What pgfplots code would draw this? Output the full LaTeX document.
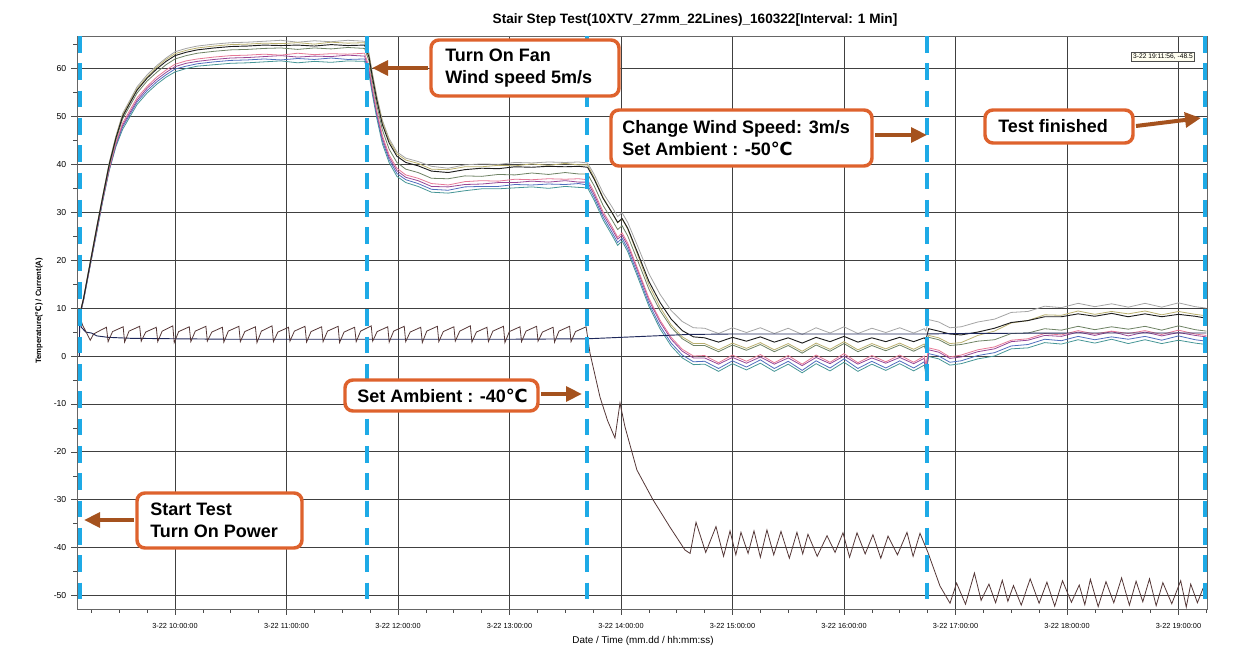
\documentclass[border=0pt]{standalone}
\usepackage{pgfplots}
\pgfplotsset{compat=1.18}
\usepackage{pgfplotstable}
\usepackage{fontspec}
\setmainfont{Liberation Sans}
\newfontfamily\dejavu{DejaVu Sans}
\usetikzlibrary{arrows.meta}
\definecolor{dashblue}{RGB}{30,170,230}
\definecolor{boxorange}{RGB}{222,98,45}
\definecolor{arrowbrown}{RGB}{165,82,30}
\definecolor{sgray}{RGB}{165,165,165}
\definecolor{solive}{RGB}{185,175,110}
\definecolor{sblack}{RGB}{30,30,30}
\definecolor{sgreen}{RGB}{110,130,100}
\definecolor{spink}{RGB}{230,120,150}
\definecolor{smag}{RGB}{150,70,150}
\definecolor{sblue}{RGB}{80,110,190}
\definecolor{steal}{RGB}{70,150,150}
\definecolor{navy}{RGB}{30,40,90}
\definecolor{amb}{RGB}{85,55,55}
\newcommand\celsius{{\dejavu ℃}}
\newcommand\annfont{\fontsize{13.5pt}{16.5pt}\selectfont\bfseries}

\pgfplotstableread{
t a b c d e f g h
9.14 8.3 8.1 8.0 8.2 7.9 8.0 7.8 7.9
9.18 12.2 12.1 12.0 11.9 11.8 11.9 11.7 11.6
9.22 17.3 17.1 17.0 16.9 16.8 16.7 16.6 16.5
9.26 22.3 22.1 22.0 21.8 21.7 21.6 21.4 21.3
9.30 27.3 27.1 27.0 26.8 26.5 26.4 26.2 26.0
9.35 33.3 33.1 33.0 32.8 32.6 32.5 32.3 32.1
9.41 40.4 40.1 40.0 39.6 39.2 39.0 38.9 38.7
9.47 45.9 45.7 45.5 45.1 44.5 44.3 44.0 43.7
9.53 50.6 50.3 50.0 49.5 48.6 48.2 47.8 47.3
9.60 53.6 53.3 53.0 52.4 51.5 51.0 50.6 50.1
9.66 56.2 55.8 55.5 54.9 53.9 53.4 53.0 52.5
9.75 58.7 58.3 58.0 57.4 56.3 55.9 55.4 54.9
9.84 60.7 60.4 60.0 59.3 58.3 57.8 57.3 56.8
9.92 62.2 61.9 61.5 60.8 59.7 59.2 58.7 58.2
10.0 63.5 63.1 62.7 62.0 60.9 60.4 59.9 59.3
10.1 64.2 63.8 63.4 62.7 61.6 61.1 60.5 60.0
10.2 64.7 64.3 63.9 63.2 62.0 61.5 61.0 60.5
10.35 65.1 64.7 64.3 63.6 62.4 61.9 61.4 60.8
10.5 65.4 65.0 64.6 63.9 62.7 62.2 61.7 61.1
10.65 65.5 65.1 64.7 64.0 62.8 62.3 61.8 61.2
10.8 65.7 65.3 64.9 64.2 63.0 62.5 62.0 61.4
10.95 65.9 65.2 64.8 64.3 62.8 62.7 61.8 61.6
11.1 65.5 65.4 64.9 64.0 63.2 62.4 62.1 61.2
11.25 65.8 65.1 64.7 64.3 62.9 62.6 61.9 61.5
11.4 65.6 65.5 65.0 64.1 63.1 62.5 62.2 61.3
11.55 65.9 65.3 64.8 64.4 63.0 62.8 61.9 61.6
11.7 65.7 65.4 64.9 64.2 63.2 62.6 62.0 61.5
11.74 63.2 62.8 62.4 61.6 60.4 59.9 59.4 58.8
11.77 59.1 58.7 58.3 57.4 56.2 55.7 55.2 54.6
11.81 54.3 53.9 53.4 52.4 51.2 50.7 50.2 49.6
11.86 49.2 48.8 48.3 47.2 46.0 45.5 44.9 44.3
11.92 45.4 45.0 44.5 43.2 42.0 41.5 41.0 40.4
11.99 42.6 42.2 41.7 40.4 39.2 38.7 38.1 37.5
12.07 41.3 40.9 40.4 39.0 37.8 37.3 36.8 36.2
12.18 40.6 40.2 39.7 38.3 37.1 36.6 36.0 35.4
12.3 39.6 39.0 38.6 37.1 36.0 35.4 34.8 34.2
12.45 39.2 38.9 38.3 37.0 35.7 35.3 34.6 34.0
12.6 39.9 39.5 38.9 37.6 36.4 35.8 35.3 34.5
12.75 40.1 39.5 39.2 37.5 36.6 35.9 35.4 34.9
12.9 40.0 39.8 39.1 37.9 36.5 36.2 35.4 34.9
13.05 40.4 39.7 39.5 37.8 36.9 36.2 35.8 35.1
13.2 40.3 40.1 39.4 38.2 36.8 36.5 35.7 35.3
13.35 40.5 39.8 39.6 37.9 37.0 36.3 35.9 35.0
13.5 40.4 40.2 39.5 38.3 36.9 36.6 35.8 35.4
13.62 40.5 39.9 39.6 38.0 37.0 36.3 36.0 35.2
13.7 40.3 39.9 39.4 38.0 36.8 36.3 35.7 35.1
13.76 37.9 37.2 36.9 35.5 34.2 33.7 33.1 32.5
13.84 34.0 33.1 32.9 31.4 30.1 29.6 29.0 28.4
13.92 31.1 29.9 29.9 28.4 27.0 26.5 25.8 25.2
13.97 29.1 27.8 27.9 26.4 24.8 24.4 23.7 23.1
14.01 29.9 28.6 28.7 27.2 25.7 25.2 24.6 24.0
14.06 27.9 26.5 26.7 25.1 23.6 23.1 22.4 21.8
14.15 22.9 21.1 21.5 19.9 18.2 17.8 17.1 16.5
14.25 17.2 14.9 15.6 14.0 12.1 11.7 11.0 10.4
14.35 12.9 10.2 11.2 9.5 7.5 7.1 6.3 5.7
14.45 9.5 6.5 7.7 6.0 3.9 3.5 2.7 2.1
14.55 7.2 4.0 5.3 3.6 1.4 1.0 0.2 -0.4
14.65 5.9 2.6 4.0 2.2 0.0 -0.4 -1.2 -1.8
14.75 5.8 2.6 3.8 2.2 0.1 -0.4 -1.1 -1.7
14.875 4.7 1.3 2.9 0.9 -1.4 -1.7 -2.6 -3.2
15.0 5.9 2.7 3.9 2.3 0.2 -0.3 -1.0 -1.6
15.125 4.9 1.6 3.1 1.2 -1.1 -1.5 -2.3 -2.9
15.25 5.9 2.8 4.0 2.4 0.3 -0.2 -0.8 -1.5
15.375 4.7 1.3 2.9 0.9 -1.4 -1.7 -2.6 -3.2
15.5 5.8 2.6 3.8 2.2 0.1 -0.4 -1.1 -1.7
15.625 4.5 1.0 2.7 0.6 -1.7 -2.0 -3.0 -3.5
15.75 5.9 2.7 3.9 2.3 0.2 -0.3 -1.0 -1.6
15.875 4.8 1.4 3.0 1.0 -1.3 -1.6 -2.5 -3.1
16.0 6.1 3.0 4.1 2.6 0.5 0.0 -0.6 -1.3
16.125 4.7 1.3 2.9 0.9 -1.4 -1.7 -2.6 -3.2
16.25 5.8 2.6 3.8 2.2 0.1 -0.4 -1.1 -1.7
16.375 4.9 1.5 3.0 1.1 -1.2 -1.5 -2.5 -3.0
16.5 5.9 2.7 3.9 2.3 0.2 -0.3 -1.0 -1.6
16.625 4.8 1.4 3.0 1.0 -1.3 -1.6 -2.5 -3.1
16.72 5.7 2.5 3.8 2.1 0.0 -0.5 -1.2 -1.9
16.735 5.2 1.9 3.4 1.2 -2.0 -2.6 -3.4 -3.9
16.76 7.6 4.3 5.7 3.9 1.7 1.3 0.5 -0.1
16.85 7.1 3.8 5.2 3.4 1.2 0.8 0.0 -0.6
16.95 5.9 2.6 4.6 2.2 -0.2 -0.5 -1.3 -1.9
17.05 6.1 2.8 4.4 2.4 0.2 -0.2 -1.0 -1.6
17.2 7.1 4.3 5.0 3.1 1.3 0.9 0.1 -0.6
17.35 7.7 5.2 5.8 3.4 1.9 1.5 0.7 0.0
17.5 9.1 6.9 7.0 4.7 3.3 3.0 2.1 1.5
17.65 9.3 7.4 7.4 4.8 3.6 3.3 2.4 1.7
17.8 10.4 8.6 8.2 5.7 4.7 4.3 3.5 2.8
17.95 10.1 8.5 8.2 5.4 4.4 4.1 3.2 2.5
18.1 11.0 9.4 8.8 6.2 5.3 5.0 4.1 3.4
18.25 10.3 8.7 8.3 5.5 4.6 4.3 3.4 2.7
18.4 10.9 9.3 8.9 6.1 5.2 5.1 4.0 3.5
18.55 10.2 8.8 8.2 5.6 4.7 4.2 3.5 2.6
18.7 11.0 9.4 8.8 6.2 5.3 5.0 4.1 3.4
18.85 10.2 8.6 8.2 5.4 4.5 4.2 3.3 2.6
19.0 11.1 9.3 8.7 6.3 5.4 4.9 4.2 3.3
19.15 10.3 8.7 8.3 5.5 4.6 4.3 3.4 2.7
19.25 10.0 8.4 7.9 5.2 4.3 4.0 3.1 2.4
}\tempdata

\begin{document}
\begin{tikzpicture}
\path[use as bounding box] (0,0) rectangle (926.25pt,492pt);
\begin{axis}[
  at={(57.75pt,35.25pt)}, anchor=south west,
  scale only axis, width=847.5pt, height=429.75pt,
  xmin=9.121, xmax=19.256, ymin=-52.8, ymax=66.8,
  xtick={10,11,12,13,14,15,16,17,18,19},
  xticklabels={3-22 10:00:00,3-22 11:00:00,3-22 12:00:00,3-22 13:00:00,3-22 14:00:00,3-22 15:00:00,3-22 16:00:00,3-22 17:00:00,3-22 18:00:00,3-22 19:00:00},
  minor xtick={9.25,9.5,...,19.25},
  ytick={-50,-40,-30,-20,-10,0,10,20,30,40,50,60},
  yticklabels={-50,-40,-30,-20,-10,0,10,20,30,40,50,60},
  minor ytick={-45,-35,-25,-15,-5,5,15,25,35,45,55,65},
  grid=major,
  major grid style={black!75, line width=0.55pt},
  tick align=outside, tick pos=left,
  major tick length=4.5pt, minor tick length=3pt,
  tick style={black!70, line width=0.4pt},
  axis line style={black!60, line width=0.6pt},
  xticklabel style={font=\fontsize{5.5pt}{6pt}\selectfont, yshift=-3pt},
  yticklabel style={font=\fontsize{6.5pt}{7pt}\selectfont},
  clip=false,
]
\addplot[sgray, line width=0.6pt] table[x=t,y=a]{\tempdata};
\addplot[solive, line width=0.6pt] table[x=t,y=b]{\tempdata};
\addplot[steal, line width=0.6pt] table[x=t,y=h]{\tempdata};
\addplot[sblue, line width=0.6pt] table[x=t,y=g]{\tempdata};
\addplot[smag, line width=0.6pt] table[x=t,y=f]{\tempdata};
\addplot[spink, line width=0.6pt] table[x=t,y=e]{\tempdata};
\addplot[sgreen, line width=0.6pt] table[x=t,y=d]{\tempdata};
\addplot[sblack, line width=0.7pt] table[x=t,y=c]{\tempdata};
% current
\addplot[navy, line width=0.7pt] coordinates {
(9.142,0)(9.145,8.5)(9.16,6.0)(9.20,5.0)(9.25,4.8)(9.30,4.2)(9.40,3.9)(9.6,3.7)(10.0,3.6)(10.5,3.5)(11,3.5)(12,3.5)(13,3.5)(13.7,3.6)(14.0,3.9)(14.3,4.2)(14.6,4.5)(15,4.6)(16,4.6)(16.74,4.6)(17,4.7)(18,4.8)(19.25,4.8)};
% ambient
\addplot[amb, line width=0.6pt] coordinates {
(9.14,8.6)(9.17,6.5)(9.24,3.3)(9.27,4.6)(9.35,5.6)(9.385,6.0)
(9.400,3.0)(9.440,5.1)(9.535,6.1)
(9.548,2.9)(9.588,5.2)(9.683,6.2)
(9.697,3.1)(9.737,5.0)(9.832,6.0)
(9.845,3.0)(9.885,5.2)(9.980,6.3)
(9.993,2.8)(10.033,5.1)(10.128,6.1)
(10.142,3.0)(10.182,5.2)(10.277,6.2)
(10.290,3.1)(10.330,5.0)(10.425,6.0)
(10.438,2.9)(10.478,5.2)(10.573,6.2)
(10.586,3.0)(10.626,5.1)(10.721,6.1)
(10.735,2.8)(10.775,5.2)(10.870,6.3)
(10.883,3.0)(10.923,5.0)(11.018,6.0)
(11.031,3.1)(11.071,5.2)(11.166,6.2)
(11.180,2.9)(11.220,5.1)(11.315,6.1)
(11.328,3.0)(11.368,5.2)(11.463,6.2)
(11.476,2.8)(11.516,5.0)(11.611,6.0)
(11.625,3.0)(11.665,5.2)(11.760,6.3)
(11.773,3.1)(11.813,5.1)(11.908,6.1)
(11.921,2.9)(11.961,5.2)(12.056,6.2)
(12.069,3.0)(12.109,5.0)(12.204,6.0)
(12.218,2.8)(12.258,5.2)(12.353,6.2)
(12.366,3.0)(12.406,5.1)(12.501,6.1)
(12.514,3.1)(12.554,5.2)(12.649,6.3)
(12.663,2.9)(12.703,5.0)(12.798,6.0)
(12.811,3.0)(12.851,5.2)(12.946,6.2)
(12.959,2.8)(12.999,5.1)(13.094,6.1)
(13.108,3.0)(13.148,5.2)(13.243,6.2)
(13.256,3.1)(13.296,5.0)(13.391,6.0)
(13.404,2.9)(13.444,5.2)(13.539,6.2)
(13.552,3.0)(13.592,5.1)(13.687,6.1)
(13.722,0.6)(13.812,-8.6)(13.88,-13.5)(13.946,-17.1)(13.991,-9.8)(14.036,-14.8)(14.143,-23.8)(14.287,-30.0)(14.439,-35.7)(14.574,-40.5)
(14.62,-41.2)(14.673,-34.7)(14.76,-41.0)(14.852,-35.6)(14.92,-41.8)(14.978,-36.5)(15.03,-41.5)(15.076,-36.8)(15.14,-41.2)(15.193,-36.5)(15.25,-42.0)(15.309,-36.3)(15.37,-41.5)(15.435,-36.6)(15.51,-42.2)(15.578,-36.8)(15.63,-41.3)(15.677,-37.2)(15.76,-41.8)(15.848,-37.5)(15.92,-41.0)(15.991,-36.9)(16.05,-42.0)(16.117,-36.9)(16.19,-41.3)(16.260,-37.3)(16.33,-42.2)(16.395,-37.6)(16.48,-41.5)(16.565,-36.8)(16.62,-41.8)(16.682,-37.0)(16.753,-41.0)(16.861,-48.0)(16.951,-51.6)
(17.01,-47.4)(17.09,-51.8)(17.17,-45.3)(17.23,-51.0)(17.30,-47.6)(17.36,-51.5)(17.42,-46.8)(17.47,-51.2)(17.52,-47.9)(17.59,-52.0)(17.67,-46.5)(17.75,-51.6)(17.82,-47.2)(17.89,-52.2)(17.96,-46.9)(18.04,-51.4)(18.11,-47.8)(18.16,-51.9)(18.21,-46.6)(18.28,-52.3)(18.35,-47.1)(18.42,-51.5)(18.49,-46.3)(18.56,-52.0)(18.62,-47.0)(18.68,-51.3)(18.74,-46.5)(18.80,-52.1)(18.86,-47.3)(18.94,-51.7)(19.02,-46.9)(19.07,-52.4)(19.11,-47.6)(19.17,-51.5)(19.22,-48.5)(19.25,-48.3)};
% event lines
\addplot[dashblue, line width=3pt, dash pattern=on 12.5pt off 8pt] coordinates {(9.1435,66.8)(9.1435,-52.8)};
\addplot[dashblue, line width=3pt, dash pattern=on 12.5pt off 8pt] coordinates {(11.722,66.8)(11.722,-52.8)};
\addplot[dashblue, line width=3pt, dash pattern=on 12.5pt off 8pt] coordinates {(13.695,66.8)(13.695,-52.8)};
\addplot[dashblue, line width=3pt, dash pattern=on 12.5pt off 8pt] coordinates {(16.744,66.8)(16.744,-52.8)};
\addplot[dashblue, line width=3pt, dash pattern=on 12.5pt off 8pt] coordinates {(19.242,66.8)(19.242,-52.8)};
\end{axis}

\begin{scope}[shift={(0pt,492pt)}, x=0.75pt, y=-0.75pt]
% title and axis labels
\node[font=\fontsize{10.2pt}{12pt}\selectfont\bfseries, inner sep=0pt] at (695,20) {Stair Step Test(10XTV\_27mm\_22Lines)\_160322[Interval: 1 Min]};
\node[font=\fontsize{7.4pt}{8pt}\selectfont, inner sep=0pt] at (643,641) {Date / Time (mm.dd / hh:mm:ss)};
\node[font=\fontsize{5.8pt}{6pt}\selectfont\bfseries, inner sep=0pt, rotate=90] at (39,311) {Temperature(\celsius) / Current(A)};
% tooltip
\node[draw=black!70, fill=yellow!6, line width=0.4pt, inner sep=1.2pt, font=\fontsize{5pt}{5pt}\selectfont] at (1163,57) {3-22 19:11:56, -48.5};
% annotation boxes
\draw[boxorange, line width=2.6pt, rounded corners=6pt, fill=white] (137,493) rectangle (302,548);
\node[anchor=west, font=\annfont, align=left, inner sep=0pt] at (150,520.5) {Start Test\\Turn On Power};
\draw[arrowbrown, line width=3pt, -{Triangle[length=12pt,width=11pt]}] (134,520) -- (84,520);

\draw[boxorange, line width=2.6pt, rounded corners=6pt, fill=white] (431,40) rectangle (619,96);
\node[anchor=west, font=\annfont, align=left, inner sep=0pt] at (445,68) {Turn On Fan\\Wind speed 5m/s};
\draw[arrowbrown, line width=3pt, -{Triangle[length=12pt,width=11pt]}] (428,68) -- (372,68);

\draw[boxorange, line width=2.6pt, rounded corners=6pt, fill=white] (345,380) rectangle (538,411);
\node[anchor=west, font=\annfont, align=left, inner sep=0pt] at (357,396) {Set Ambient : -40\celsius};
\draw[arrowbrown, line width=3pt, -{Triangle[length=12pt,width=11pt]}] (541,394) -- (582,394);

\draw[boxorange, line width=2.6pt, rounded corners=6pt, fill=white] (611,110) rectangle (872,166);
\node[anchor=west, font=\annfont, align=left, inner sep=0pt] at (622,138.5) {Change Wind Speed: 3m/s\\Set Ambient : -50\celsius};
\draw[arrowbrown, line width=3pt, -{Triangle[length=12pt,width=11pt]}] (875,135) -- (927,135);

\draw[boxorange, line width=2.6pt, rounded corners=6pt, fill=white] (985,110) rectangle (1133,143);
\node[anchor=west, font=\annfont, align=left, inner sep=0pt] at (998,126.5) {Test finished};
\draw[arrowbrown, line width=3pt, -{Triangle[length=12pt,width=11pt]}] (1136,126) -- (1201,118);
\end{scope}
\end{tikzpicture}
\end{document}
